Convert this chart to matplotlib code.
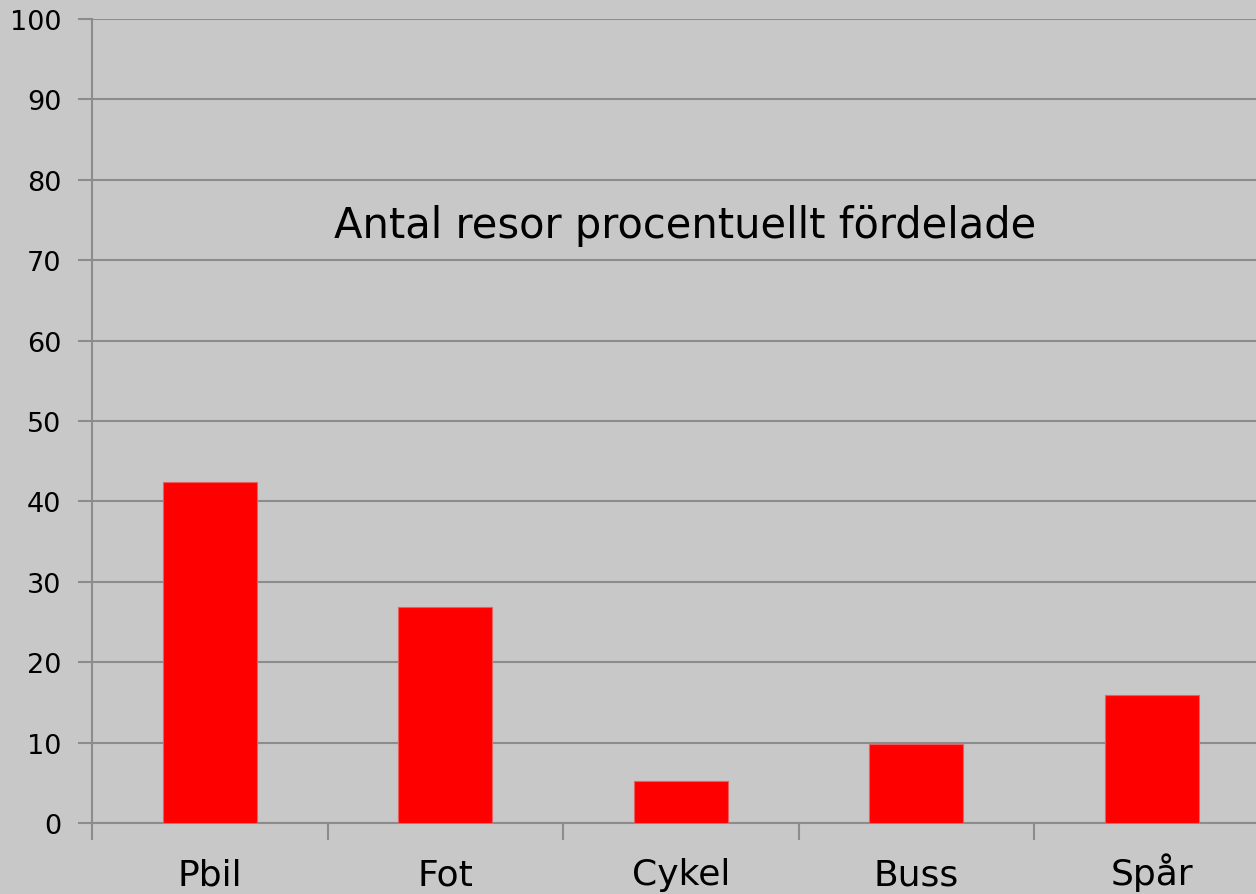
import matplotlib
matplotlib.use("Agg")
import matplotlib.pyplot as plt
import numpy as np

# values (percent of trips)
categories = ["Pbil", "Fot", "Cykel", "Buss", "Spår"]
shares = [42.4, 26.9, 5.2, 9.8, 15.9]
yticks = [0, 10, 20, 30, 40, 50, 60, 70, 80, 90, 100]
title = "Antal resor procentuellt fördelade"

bg = "#c8c8c8"
grid_col = "#8c8c8c"

W, H = 1256, 895
fig = plt.figure(figsize=(W / 100, H / 100), dpi=100, facecolor=bg)
# plot area: left spine at x=92, zero line at y=824, top at y=20
ax = fig.add_axes([92 / W, (H - 824) / H, (W - 92) / W, (824 - 20) / H])
ax.set_facecolor(bg)

x = np.arange(len(categories))
ax.bar(x, shares, width=0.4, color="#ff0000", edgecolor="#e86060", linewidth=0.8, zorder=3)

# the category band is 235.5 px wide, the last band runs past the right edge
ax.set_xlim(-0.5, -0.5 + (W - 92) / 235.5)
ax.set_ylim(0, 100)
ax.set_yticks(yticks)
ax.set_yticklabels([str(v) for v in yticks], fontsize=19.5)
ax.set_xticks(x)
ax.set_xticklabels(categories, fontsize=26, va="baseline")
ax.xaxis.set_minor_locator(matplotlib.ticker.FixedLocator(np.arange(len(categories) + 1) - 0.5))
ax.tick_params(axis="x", which="major", length=0, pad=44)
ax.tick_params(axis="x", which="minor", length=12, width=1.5, color=grid_col)
ax.tick_params(axis="y", length=10, width=1.5, color=grid_col, pad=12)

ax.grid(axis="y", color=grid_col, linewidth=1.5, zorder=0)
for s in ["top", "right"]:
    ax.spines[s].set_visible(False)
for s in ["left", "bottom"]:
    ax.spines[s].set_color(grid_col)
    ax.spines[s].set_linewidth(1.5)

ax.text(685 / W, (H - 238) / H, title, transform=fig.transFigure, ha="center",
        va="baseline", fontsize=30, color="black")

fig.savefig("out.png", dpi=100, facecolor=bg)
